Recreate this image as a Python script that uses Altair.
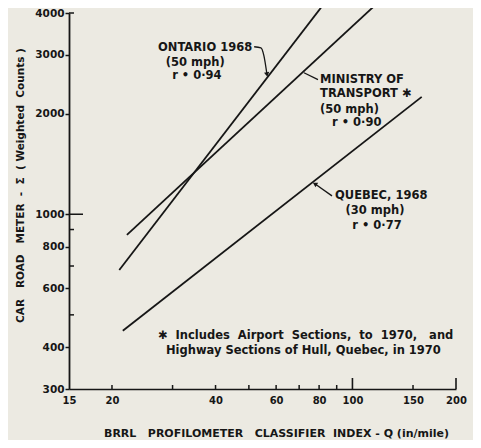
import altair as alt
import pandas as pd

# ---------------- data ----------------
series = ["ONTARIO 1968", "MINISTRY OF TRANSPORT", "QUEBEC 1968"]
x_start = [21.0, 22.1, 21.5]
x_end = [81.0, 116.0, 159.0]
y_start = [681, 867, 448]
y_end = [4150, 4207, 2245]

x_tick_labels = [15, 20, 40, 60, 80, 100, 150, 200]
x_small_ticks = [20, 30, 40, 50, 60, 70, 80, 90, 150]
x_tall_ticks = [100, 200]
y_tick_labels = [300, 400, 600, 800, 1000, 2000, 3000, 4000]
y_inner_ticks = [500, 700, 900, 4000]
y_long_ticks = [1000]

NB = "\u00a0"
# annotations (data coordinates)
center_text = ["ONTARIO 1968", "(50 mph)", "r \u2022 0\u00b794", "(30 mph)", "r \u2022 0\u00b777"]
center_x = [37.3, 34.9, 35.3, 116.3, 117.9]
center_y = [3147, 2838, 2595, 1024, 923]

left_text = ["MINISTRY OF", "TRANSPORT \u2731", "(50 mph)", "r \u2022 0\u00b790",
             "QUEBEC, 1968",
             "\u2731" + NB + " Includes" + NB + " Airport" + NB + " Sections," + NB + " to" + NB + " 1970," + NB + NB + " and",
             "Highway Sections of Hull, Quebec, in 1970"]
left_x = [80.5, 80.5, 80.5, 87.2, 89.0, 27.2, 28.7]
left_y = [2527, 2293, 2053, 1877, 1135, 432, 390]

leader_group = ["ont", "ont", "ont", "ont", "min", "min", "que", "que"]
leader_order = [0, 1, 2, 3, 0, 1, 0, 1]
leader_x = [51.8, 54.2, 55.3, 56.4, 72.3, 79.4, 87.2, 78.1]
leader_y = [3170, 3147, 2979, 2632, 2650, 2527, 1135, 1229]

arrow_x = [56.4, 78.1]
arrow_y = [2632, 1229]
arrow_angle = [171, 300]

x_title = NB.join(["BRRL", "", "", "PROFILOMETER", "", "", "CLASSIFIER", "", "INDEX", "-", "Q", "(in/mile)"])
y_title = NB.join(["CAR", "", "", "ROAD", "", "", "METER", "", "-", "", "\u03a3", "", "(", "Weighted", "", "Counts", ")"])

# ---------------- tables ----------------
rows = []
for s, xa, xb, ya, yb in zip(series, x_start, x_end, y_start, y_end):
    rows.append({"series": s, "x": xa, "y": ya, "o": 0})
    rows.append({"series": s, "x": xb, "y": yb, "o": 1})
df_lines = pd.DataFrame(rows)

df_center = pd.DataFrame({"t": center_text, "x": center_x, "y": center_y})
df_left = pd.DataFrame({"t": left_text, "x": left_x, "y": left_y})
df_leader = pd.DataFrame({"g": leader_group, "o": leader_order, "x": leader_x, "y": leader_y})
df_arrow = pd.DataFrame({"x": arrow_x, "y": arrow_y, "a": arrow_angle})
df_xs = pd.DataFrame({"x": x_small_ticks})
df_xt = pd.DataFrame({"x": x_tall_ticks})
df_yi = pd.DataFrame({"y": y_inner_ticks})
df_yl = pd.DataFrame({"y": y_long_ticks})

INK = "#161616"
BG = "#ECEAE2"
FONT = "DejaVu Sans"
FS = 11.5

xs = alt.Scale(type="log", domain=[15, 200], nice=False)
ys = alt.Scale(type="log", domain=[300, 4000], nice=False)

x_axis = alt.Axis(
    values=x_tick_labels, format="d", ticks=False, tickSize=0, grid=False,
    labelPadding=6, labelFontSize=10, labelFont=FONT, labelFontWeight="bold",
    labelColor=INK, domainColor=INK, domainWidth=1.6,
    title=x_title,
    titleX=207, titleY=44, titleAlign="center", titleBaseline="middle",
    titleFont=FONT, titleFontSize=11, titleFontWeight="bold", titleColor=INK,
    labelOverlap=False, labelFlush=False,
)
y_axis = alt.Axis(
    values=y_tick_labels, format="d", tickSize=4, tickWidth=1.5, tickColor=INK,
    grid=False, labelPadding=1, labelFontSize=10.5, labelFont=FONT,
    labelFontWeight="bold", labelColor=INK, domainColor=INK, domainWidth=1.8,
    title=y_title,
    titleX=-49, titleY=172, titleAngle=-90, titleAlign="center", titleBaseline="middle",
    titleFont=FONT, titleFontSize=10.5, titleFontWeight="bold", titleColor=INK,
    labelOverlap=False, labelFlush=False,
)

X = alt.X("x:Q", scale=xs, axis=x_axis)
Y = alt.Y("y:Q", scale=ys, axis=y_axis)

lines = alt.Chart(df_lines).mark_line(color=INK, strokeWidth=1.8).encode(
    x=X, y=Y, detail="series:N", order="o:Q",
)
txt_c = alt.Chart(df_center).mark_text(
    align="center", baseline="middle", font=FONT, fontSize=FS,
    fontWeight="bold", color=INK
).encode(x=X, y=Y, text="t:N")
txt_l = alt.Chart(df_left).mark_text(
    align="left", baseline="middle", font=FONT, fontSize=FS,
    fontWeight="bold", color=INK
).encode(x=X, y=Y, text="t:N")
leaders = alt.Chart(df_leader).mark_line(color=INK, strokeWidth=1.3, interpolate="monotone").encode(
    x=X, y=Y, detail="g:N", order="o:Q",
)
arrows = alt.Chart(df_arrow).mark_point(
    shape="triangle", filled=True, size=28, color=INK, opacity=1
).encode(x=X, y=Y, angle=alt.Angle("a:Q", scale=None))
xt_small = alt.Chart(df_xs).mark_rule(color=INK, strokeWidth=1.5).encode(
    x=X, y=alt.value(376), y2=alt.value(372),
)
xt_tall = alt.Chart(df_xt).mark_rule(color=INK, strokeWidth=1.6).encode(
    x=X, y=alt.value(376), y2=alt.value(365),
)
yt_in = alt.Chart(df_yi).mark_rule(color=INK, strokeWidth=1.5).encode(
    y=Y, x=alt.value(0), x2=alt.value(5),
)
yt_long = alt.Chart(df_yl).mark_rule(color=INK, strokeWidth=1.5).encode(
    y=Y, x=alt.value(0), x2=alt.value(14),
)

chart = alt.layer(
    lines, xt_small, xt_tall, yt_in, yt_long, leaders, arrows, txt_c, txt_l
).properties(
    width=387, height=376,
    autosize=alt.AutoSizeParams(type="none"),
    padding={"left": 61, "top": 5, "right": 17, "bottom": 51},
    background=BG,
).configure_view(stroke=None)

chart.save("out.html", embed_options={"renderer": "svg", "actions": False})
